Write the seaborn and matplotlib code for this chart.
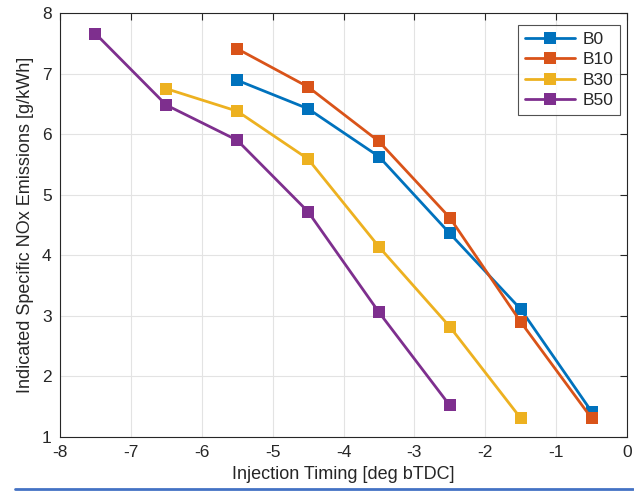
import matplotlib
matplotlib.use("Agg")
import matplotlib.pyplot as plt
import seaborn as sns
import pandas as pd
from matplotlib.lines import Line2D

timing_b0 = [-5.5, -4.5, -3.5, -2.5, -1.5, -0.5]
nox_b0 = [6.89, 6.42, 5.63, 4.36, 3.11, 1.42]
timing_b10 = [-5.5, -4.5, -3.5, -2.5, -1.5, -0.5]
nox_b10 = [7.41, 6.78, 5.88, 4.62, 2.90, 1.31]
timing_b30 = [-6.5, -5.5, -4.5, -3.5, -2.5, -1.5]
nox_b30 = [6.75, 6.38, 5.59, 4.14, 2.82, 1.31]
timing_b50 = [-7.5, -6.5, -5.5, -4.5, -3.5, -2.5]
nox_b50 = [7.66, 6.48, 5.90, 4.72, 3.06, 1.52]
series_names = ["B0", "B10", "B30", "B50"]
colors = ["#0072BD", "#D95319", "#EDB120", "#7E2F8E"]

frames = []
for name, xs, ys in zip(series_names,
                        [timing_b0, timing_b10, timing_b30, timing_b50],
                        [nox_b0, nox_b10, nox_b30, nox_b50]):
    frames.append(pd.DataFrame({"timing": xs, "nox": ys, "fuel": name}))
df = pd.concat(frames, ignore_index=True)

sns.set_theme(style="white")
plt.rcParams['font.family'] = ['Liberation Sans', 'DejaVu Sans']
plt.rcParams['axes.unicode_minus'] = False

fig = plt.figure(figsize=(6.34, 4.91), dpi=100)
ax = fig.add_axes([0.0946, 0.110, 0.8944, 0.8635])

sns.lineplot(data=df, x="timing", y="nox", hue="fuel", hue_order=series_names,
             palette=colors, marker="s", markersize=8.8, markeredgewidth=0,
             linewidth=2, ax=ax, legend=False, sort=False)

ax.set_xlim(-8, 0)
ax.set_ylim(1, 8)
ax.set_xticks(range(-8, 1))
ax.set_yticks(range(1, 9))
ax.grid(True, color="#e3e3e3", linewidth=0.8)
ax.set_axisbelow(True)
for s in ax.spines.values():
    s.set_visible(True)
    s.set_color("#262626")
    s.set_linewidth(0.8)
ax.tick_params(direction="in", length=5, width=0.8, top=True, right=True,
               labelsize=12.5, colors="#262626", pad=6)
ax.set_xlabel("Injection Timing [deg bTDC]", fontsize=13, color="#262626", labelpad=4)
ax.set_ylabel("Indicated Specific NOx Emissions [g/kWh]", fontsize=13, color="#262626", labelpad=6)

handles = [Line2D([0], [0], color=c, marker="s", markersize=8.8, markeredgewidth=0,
                  linewidth=2) for c in colors]
leg = ax.legend(handles, series_names, loc="upper right", bbox_to_anchor=(0.988, 0.972),
                borderaxespad=0, fontsize=12.5, frameon=True, fancybox=False,
                handlelength=2.9, borderpad=0.4, labelspacing=0.3, handletextpad=0.4)
leg.get_frame().set_edgecolor("#262626")
leg.get_frame().set_linewidth(0.8)

fig.add_artist(Line2D([15 / 634, 633 / 634], [1 - 489 / 491, 1 - 489 / 491],
                      transform=fig.transFigure, color="#4472C4", linewidth=2))

fig.savefig("out.png", dpi=100)
